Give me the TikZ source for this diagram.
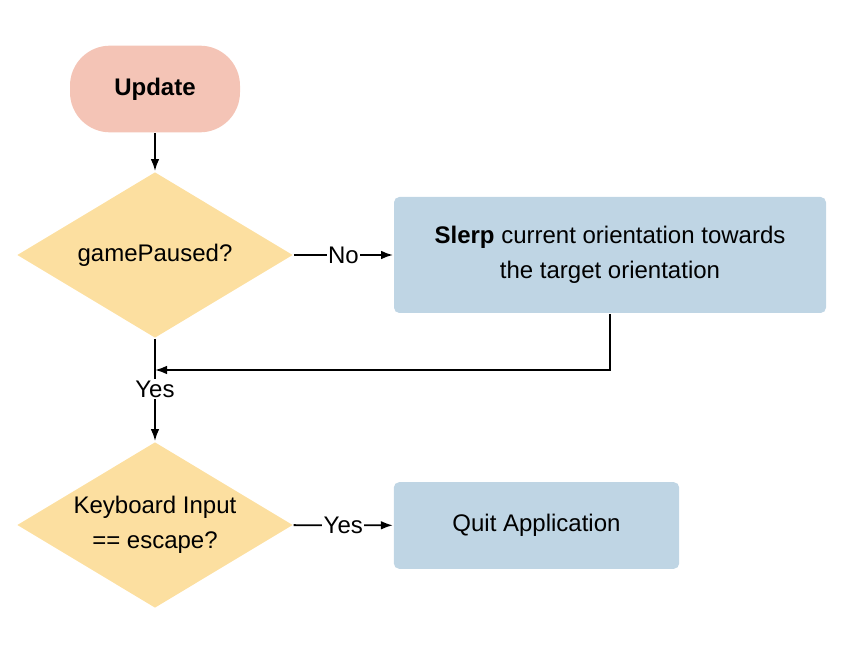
\documentclass[tikz,border=0pt]{standalone}
\usepackage{fontspec}
\setmainfont{Liberation Sans}
\usetikzlibrary{arrows.meta,shapes.geometric}

\definecolor{termcol}{HTML}{F4C4B6}
\definecolor{decicol}{HTML}{FCDFA0}
\definecolor{proccol}{HTML}{BFD5E4}

\begin{document}
\begin{tikzpicture}[>={Latex[length=9pt,width=6.5pt]},x=0.75pt,y=-0.75pt,line width=1.4pt,font=\fontsize{18}{26}\selectfont,
	terminal/.style={rounded corners=30pt,fill=termcol,minimum width=127.5pt,minimum height=65pt},
	decision/.style={diamond,fill=decicol,minimum width=207pt,minimum height=124.5pt,inner sep=0pt},
	process/.style={rounded corners=4pt,fill=proccol,align=center},
	lbl/.style={fill=white,inner sep=1pt}]
\useasboundingbox (0,0) rectangle (858,652);
	\node[terminal] (update) at (155,89) {\textbf{Update}};
	\node[decision,label={center:gamePaused?}] (paused) at (155,255) {};
	\node[process,minimum width=324pt,minimum height=87pt] (slerp) at (610,255)
		{\textbf{Slerp} current orientation towards\\the target orientation};
	\node[decision,label={[align=center]center:Keyboard Input\\== escape?}] (escape) at (155,525) {};
	\node[process,minimum width=214pt,minimum height=65pt] (quit) at (536.5,525.5) {Quit Application};
	\coordinate (merge) at (155,370);

	\draw[->] (update) -- (paused);
	\draw[->] (paused) -- node[lbl]{No} (slerp);
	\draw[->] (slerp.south) |- (merge);
	\draw[->] (paused) -- node[lbl,pos=0.49]{Yes} (escape);
	\draw[->] (escape) -- node[lbl]{Yes} (quit);
\end{tikzpicture}
\end{document}
